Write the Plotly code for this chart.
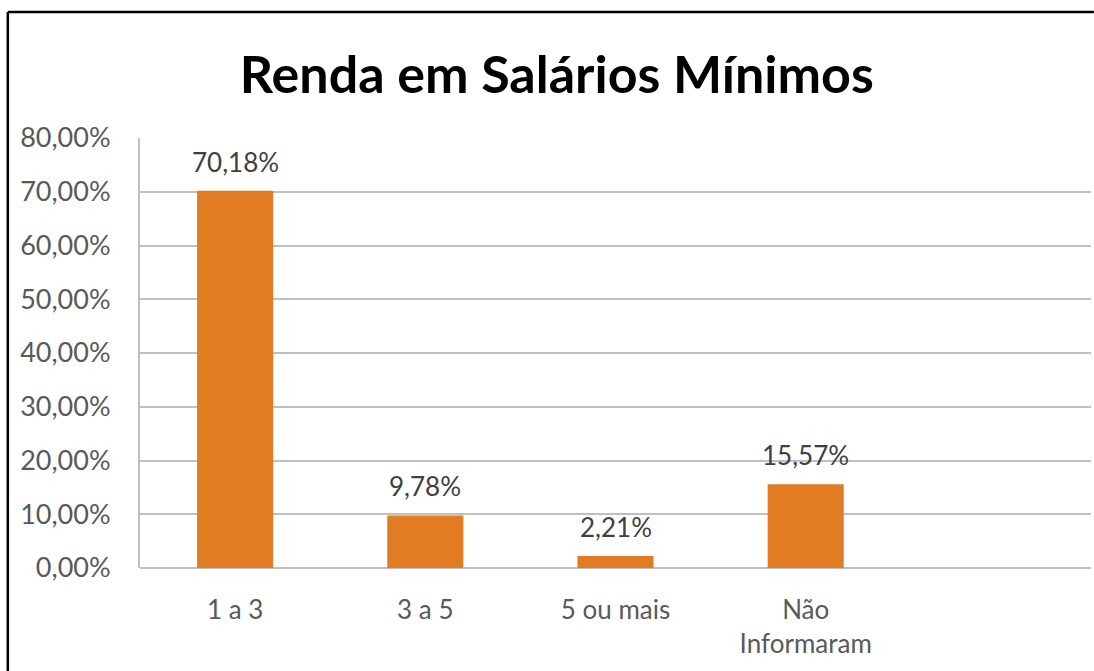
import plotly.graph_objects as go

categories = ["1 a 3", "3 a 5", "5 ou mais", "Não<br>Informaram"]
values = [0.7018, 0.0978, 0.0221, 0.1557]
y_ticks = [0, 0.1, 0.2, 0.3, 0.4, 0.5, 0.6, 0.7, 0.8]
title_text = "Renda em Salários Mínimos"

FONT = "Lato"
GRAY = "#595959"

fig = go.Figure()
fig.add_trace(go.Bar(
    x=categories,
    y=values,
    marker=dict(color="#E27C23", line=dict(width=0)),
    width=0.4,
    hoverinfo="skip",
))

for c, v in zip(categories, values):
    fig.add_annotation(
        x=c, y=v, text=f"{v*100:.2f}%".replace(".", ","),
        showarrow=False, yanchor="bottom", yshift=11,
        font=dict(family=FONT, size=26, color="#404040"),
    )

# chart border (top and left edges visible)
fig.add_shape(type="line", xref="paper", yref="paper",
              x0=-0.139, x1=1.003, y0=1.293, y1=1.293,
              line=dict(color="black", width=2.5), layer="above")
fig.add_shape(type="line", xref="paper", yref="paper",
              x0=-0.139, x1=-0.139, y0=-0.24, y1=1.293,
              line=dict(color="black", width=2.5), layer="above")

fig.update_layout(
    width=1094, height=671,
    margin=dict(l=140, r=3, t=138, b=103),
    paper_bgcolor="white", plot_bgcolor="white",
    separators=",.",
    showlegend=False,
    title=dict(text=title_text, x=0.509, xanchor="center", y=0.888, yanchor="middle",
               font=dict(family=FONT, size=52, color="black", weight=700)),
    xaxis=dict(
        type="category",
        categoryorder="array", categoryarray=categories + [" "],
        range=[-0.5, 4.5],
        tickvals=categories,
        showgrid=False, showline=False, zeroline=False,
        ticks="", ticklabelstandoff=24,
        tickfont=dict(family=FONT, size=26, color=GRAY),
        fixedrange=True,
    ),
    yaxis=dict(
        range=[0, 0.8],
        tickvals=y_ticks, tickformat=".2%",
        showgrid=True, gridcolor="#BFBFBF", gridwidth=2,
        showline=True, linecolor="#BFBFBF", linewidth=2,
        zeroline=True, zerolinecolor="#BFBFBF", zerolinewidth=2,
        ticks="", ticklabelstandoff=22,
        tickfont=dict(family=FONT, size=27, color=GRAY),
        fixedrange=True,
    ),
)

fig.write_html(
    "out.html",
    config={"displayModeBar": False},
    post_script="document.body.style.margin='0px';document.body.style.overflow='hidden';",
)
